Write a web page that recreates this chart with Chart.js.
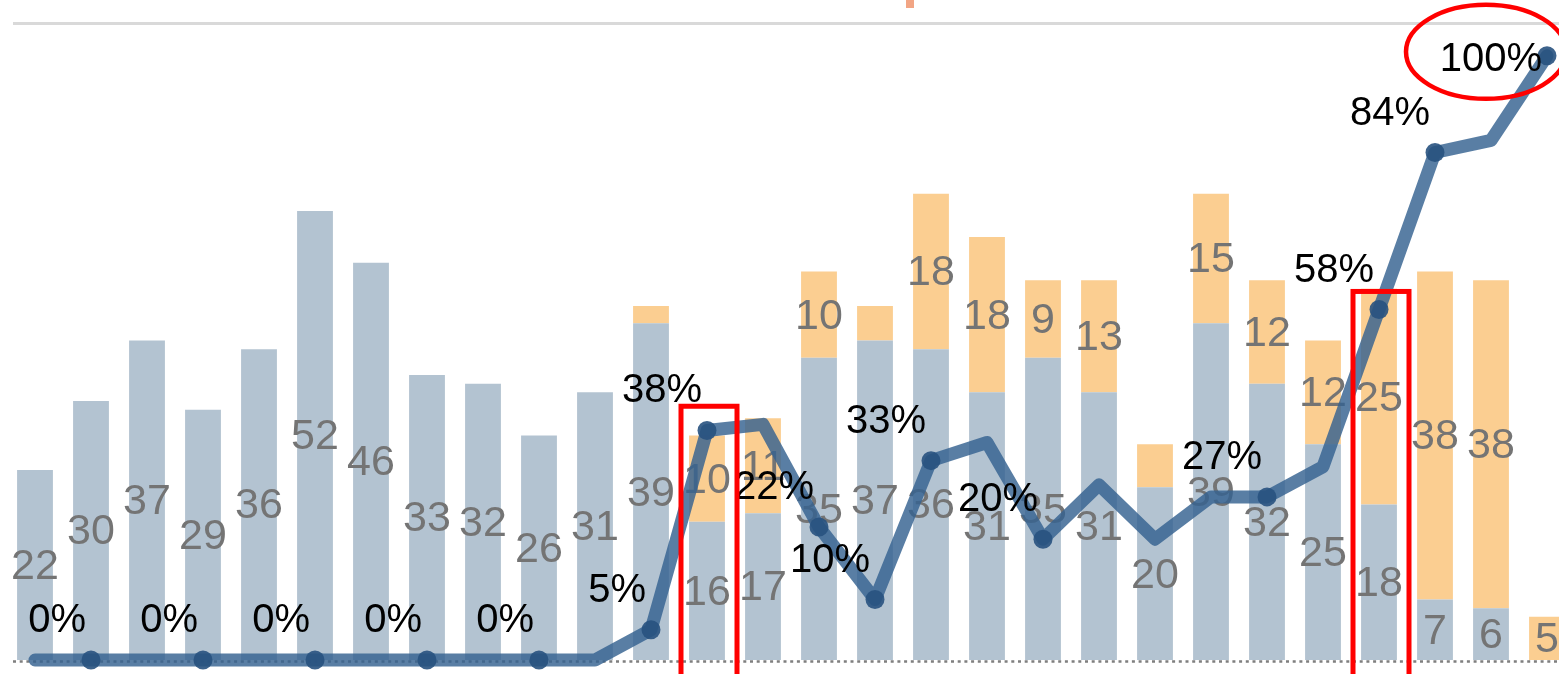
<!DOCTYPE html>
<html>
<head>
<meta charset="utf-8">
<script src="https://cdn.jsdelivr.net/npm/chart.js@4/dist/chart.umd.min.js"></script>
<style>
  html, body { margin: 0; padding: 0; background: #fff; overflow: hidden; }
  #mixChart { display: block; width: 1576px; height: 674px; }
</style>
</head>
<body>
<canvas id="mixChart" width="1576" height="674"></canvas>
<script>
// data
var categories = ['1','2','3','4','5','6','7','8','9','10','11','12','13','14',
                  '15','16','17','18','19','20','21','22','23','24','25','26','27','28'];
var baseValues  = [22,30,37,29,36,52,46,33,32,26,31,39,16,17,35,37,36,31,35,31,20,39,32,25,18,7,6,0];
var addedValues = [0,0,0,0,0,0,0,0,0,0,0,2,10,11,10,4,18,18,9,13,5,15,12,12,25,38,38,5];
var rateValues  = [0,0,0,0,0,0,0,0,0,0,0,5,38,39,22,10,33,36,20,29,20,27,27,32,58,84,86,100];
// points that carry a marker and a % label
var rateMarked  = [false,true,false,true,false,true,false,true,false,true,false,true,true,false,
                   true,true,true,false,true,false,false,false,true,false,true,true,false,true];
// orange labels that are not shown in the picture
var hiddenAddedLabels = [11, 15, 20];

// red highlight marks
var highlightBoxes = [{ index: 12, topRate: 42 }, { index: 24, topRate: 61 }];
var circledIndex = 27;

var overlayPlugin = {
  id: 'overlay',
  beforeDatasetsDraw: function(chart) {
    var ctx = chart.ctx;
    var area = chart.chartArea;
    var y0 = chart.scales.y.getPixelForValue(0);
    ctx.save();
    // top gridline
    ctx.strokeStyle = '#d9d9d9';
    ctx.lineWidth = 3;
    ctx.beginPath();
    ctx.moveTo(13, area.top + 1.5);
    ctx.lineTo(chart.width, area.top + 1.5);
    ctx.stroke();
    // dotted baseline
    ctx.strokeStyle = '#7f7f7f';
    ctx.lineWidth = 2.5;
    ctx.setLineDash([3, 3.7]);
    ctx.beginPath();
    ctx.moveTo(13, y0 + 1.5);
    ctx.lineTo(chart.width, y0 + 1.5);
    ctx.stroke();
    ctx.restore();
    // small orange piece at the top edge
    ctx.fillStyle = '#f2a584';
    ctx.fillRect(906, 0, 8, 8);
  },
  afterDatasetDraw: function(chart, args) {
    if (args.meta.type !== 'bar') return;
    var ctx = chart.ctx;
    var values = args.index === 0 ? baseValues : addedValues;
    ctx.save();
    ctx.font = '43px "Liberation Sans", Arial, sans-serif';
    ctx.fillStyle = '#747474';
    ctx.textAlign = 'center';
    ctx.textBaseline = 'middle';
    args.meta.data.forEach(function(bar, i) {
      var v = values[i];
      if (!v) return;
      if (args.index === 1 && hiddenAddedLabels.indexOf(i) >= 0) return;
      var p = bar.getProps(['x', 'y', 'base'], true);
      ctx.fillText(String(v), p.x, (p.y + p.base) / 2 + 2);
    });
    ctx.restore();
  },
  afterDatasetsDraw: function(chart) {
    var ctx = chart.ctx;
    var xs = chart.scales.x, y1 = chart.scales.y1;
    var meta = chart.getDatasetMeta(2);
    ctx.save();
    // % labels
    ctx.font = '40px "Liberation Sans", Arial, sans-serif';
    ctx.fillStyle = '#000';
    ctx.textAlign = 'right';
    ctx.textBaseline = 'alphabetic';
    meta.data.forEach(function(pt, i) {
      if (!rateMarked[i]) return;
      var y = i === rateValues.length - 1 ? pt.y + 15 : pt.y - 28;
      ctx.fillText(rateValues[i] + '%', pt.x - 5, y);
    });
    // red boxes
    ctx.strokeStyle = '#ff0000';
    ctx.lineWidth = 5;
    highlightBoxes.forEach(function(b) {
      var cx = xs.getPixelForValue(b.index) + 2;
      var top = y1.getPixelForValue(b.topRate);
      ctx.strokeRect(cx - 28, top, 56, chart.height - top + 20);
    });
    // red ellipse round the last label
    var ex = xs.getPixelForValue(circledIndex) - 61;
    var ey = y1.getPixelForValue(rateValues[circledIndex]) - 4;
    ctx.lineWidth = 4.5;
    ctx.beginPath();
    ctx.ellipse(ex, ey, 80, 47, 0, 0, Math.PI * 2);
    ctx.stroke();
    ctx.restore();
  }
};

var ctx = document.getElementById('mixChart').getContext('2d');
var mixChart = new Chart(ctx, {
  type: 'bar',
  data: {
    labels: categories,
    datasets: [{
      label: 'base',
      data: baseValues,
      backgroundColor: '#b3c3d1',
      order: 1,
      barPercentage: 0.64,
      categoryPercentage: 1
    }, {
      label: 'added',
      data: addedValues,
      backgroundColor: '#fbce91',
      order: 1,
      barPercentage: 0.64,
      categoryPercentage: 1
    }, {
      type: 'line',
      label: 'rate',
      data: rateValues,
      yAxisID: 'y1',
      order: 0,
      borderColor: 'rgba(52,97,144,0.82)',
      borderWidth: 13,
      borderCapStyle: 'round',
      borderJoinStyle: 'round',
      tension: 0,
      clip: false,
      pointRadius: rateMarked.map(function(m) { return m ? 9.5 : 0; }),
      pointBackgroundColor: 'rgba(40,82,128,0.9)',
      pointBorderWidth: 0
    }]
  },
  options: {
    responsive: false,
    animation: false,
    // canvas is a bit wider than the window: the last bar is cut, as in the picture
    layout: { autoPadding: false, padding: { left: 7, right: 1, top: 22, bottom: 14 } },
    plugins: {
      legend: { display: false },
      tooltip: { enabled: false }
    },
    scales: {
      x: { display: false, stacked: true, offset: true },
      y: { display: false, stacked: true, min: 0, max: 73.9 },
      y1: { display: false, min: 0, max: 105.6 }
    }
  },
  plugins: [overlayPlugin]
});
</script>
</body>
</html>
